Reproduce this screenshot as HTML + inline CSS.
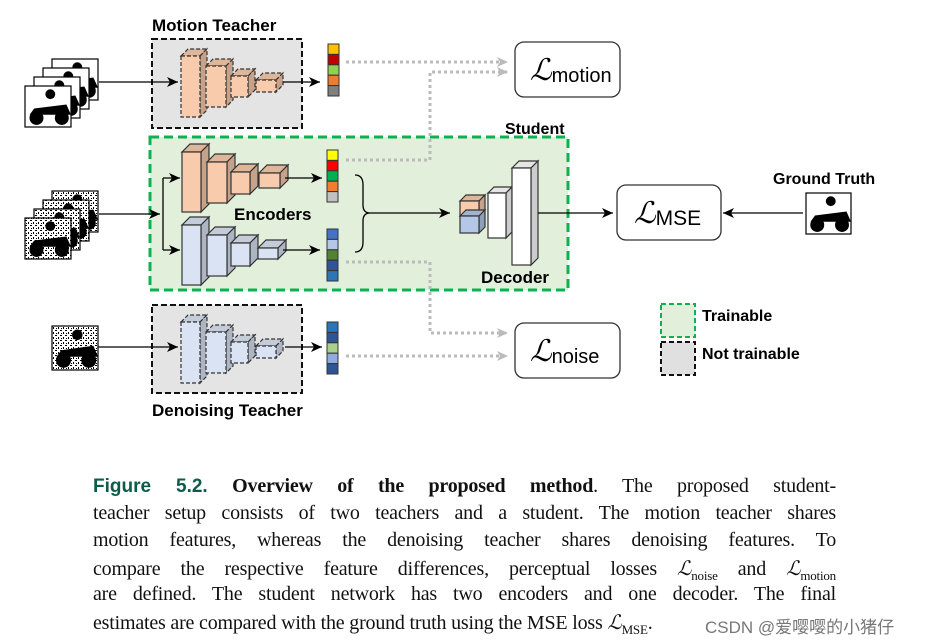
<!DOCTYPE html>
<html><head><meta charset="utf-8"><style>
body{margin:0;background:#fff;width:930px;height:644px;overflow:hidden;position:relative;font-family:"Liberation Sans",sans-serif}
.cap{position:absolute;left:93px;width:743px;font-family:"Liberation Serif",serif;font-size:20px;letter-spacing:-0.2px;color:#111;white-space:nowrap;text-align:justify;text-align-last:justify}
</style></head><body>
<svg id="s" width="930" height="460" style="position:absolute;left:0;top:0" font-family="Liberation Sans, sans-serif">
<defs>
<marker id="a" markerWidth="12" markerHeight="10" refX="11" refY="5" orient="auto" markerUnits="userSpaceOnUse"><path d="M0,0 L11,5 L0,10 L3,5z" fill="#000"/></marker>
<marker id="g" markerWidth="12" markerHeight="10" refX="11" refY="5" orient="auto" markerUnits="userSpaceOnUse"><path d="M0,0 L11,5 L0,10 L3,5z" fill="#bbb"/></marker>
<pattern id="nz" width="5" height="5" patternUnits="userSpaceOnUse"><rect width="5" height="5" fill="#fff"/><rect x="0" y="0" width="2" height="1" fill="#000"/><rect x="3" y="2" width="1" height="2" fill="#000"/><rect x="1" y="3" width="1" height="1" fill="#000"/></pattern>
</defs>
<rect x="152" y="39" width="150" height="89" fill="#e4e4e4" stroke="#111" stroke-width="2" stroke-dasharray="6,3"/>
<text x="152" y="31" font-size="17" font-weight="bold">Motion Teacher</text>
<rect x="150" y="137" width="418" height="153" fill="#e2efda" stroke="#10b050" stroke-width="3" stroke-dasharray="9,5"/>
<text x="505" y="134" font-size="16" font-weight="bold">Student</text>
<rect x="152" y="305" width="150" height="88" fill="#e4e4e4" stroke="#111" stroke-width="2" stroke-dasharray="6,3"/>
<text x="152" y="416" font-size="17" font-weight="bold">Denoising Teacher</text>
<text x="234" y="220" font-size="17" font-weight="bold">Encoders</text>
<text x="481" y="283" font-size="17" font-weight="bold">Decoder</text>
<g id="cubes"></g>
<g id="inp"></g>
<g stroke="#000" stroke-width="1.3" fill="none">
<line x1="99" y1="82" x2="178" y2="82" marker-end="url(#a)"/>
<line x1="283" y1="82" x2="320" y2="82" marker-end="url(#a)"/>
<line x1="99" y1="214" x2="160" y2="214" marker-end="url(#a)"/>
<polyline points="163,178 163,250"/>
<line x1="163" y1="178" x2="180" y2="178" marker-end="url(#a)"/>
<line x1="163" y1="250" x2="180" y2="250" marker-end="url(#a)"/>
<line x1="285" y1="178" x2="322" y2="178" marker-end="url(#a)"/>
<line x1="283" y1="250" x2="320" y2="250" marker-end="url(#a)"/>
<line x1="98" y1="347" x2="178" y2="347" marker-end="url(#a)"/>
<line x1="285" y1="347" x2="322" y2="347" marker-end="url(#a)"/>
<path d="M355,175 Q363,175 363,185 L363,205 Q363,213 370,213 Q363,213 363,221 L363,242 Q363,252 355,252"/>
<line x1="370" y1="213" x2="450" y2="213" marker-end="url(#a)"/>
<line x1="538" y1="213" x2="613" y2="213" marker-end="url(#a)"/>
<line x1="803" y1="213" x2="723" y2="213" marker-end="url(#a)"/>
</g>
<g stroke="#bbb" stroke-width="3" fill="none" stroke-dasharray="3,3">
<line x1="346" y1="62" x2="508" y2="62" marker-end="url(#g)"/>
<polyline points="346,160 430,160 430,72 508,72" marker-end="url(#g)"/>
<polyline points="346,262 430,262 430,333 508,333" marker-end="url(#g)"/>
<line x1="346" y1="356" x2="508" y2="356" marker-end="url(#g)"/>
</g>
<g fill="#fff" stroke="#333" stroke-width="1.3">
<rect x="515" y="42" width="105" height="55" rx="9"/>
<rect x="617" y="185" width="104" height="55" rx="9"/>
<rect x="515" y="323" width="105" height="55" rx="9"/>
</g>
<g font-family="Liberation Serif, serif" font-style="italic" font-size="30">
<text x="530" y="80">ℒ<tspan font-family="Liberation Sans, sans-serif" font-style="normal" font-size="20" dy="2">motion</tspan></text>
<text x="634" y="223">ℒ<tspan font-family="Liberation Sans, sans-serif" font-style="normal" font-size="21" dy="2">MSE</tspan></text>
<text x="530" y="361">ℒ<tspan font-family="Liberation Sans, sans-serif" font-style="normal" font-size="20" dy="2">noise</tspan></text>
</g>
<text x="773" y="184" font-size="16" font-weight="bold">Ground Truth</text>
<rect x="661" y="304" width="34" height="33" fill="#e2efda" stroke="#10b050" stroke-width="2" stroke-dasharray="5,3"/>
<rect x="661" y="342" width="34" height="33" fill="#e0e0e0" stroke="#111" stroke-width="2" stroke-dasharray="5,3"/>
<text x="702" y="321" font-size="16" font-weight="bold">Trainable</text>
<text x="702" y="359" font-size="16" font-weight="bold">Not trainable</text>
</svg>
<div class="cap" style="top:475px"><b style="color:#0b5d4a;font-family:'Liberation Sans',sans-serif;font-size:19px;letter-spacing:0">Figure 5.2.</b> <b>Overview of the proposed method</b>. The proposed student-</div>
<div class="cap" style="top:502px">teacher setup consists of two teachers and a student. The motion teacher shares</div>
<div class="cap" style="top:529px">motion features, whereas the denoising teacher shares denoising features. To</div>
<div class="cap" style="top:556px">compare the respective feature differences, perceptual losses <i>ℒ</i><sub style="font-size:13px">noise</sub> and <i>ℒ</i><sub style="font-size:13px">motion</sub></div>
<div class="cap" style="top:583px">are defined. The student network has two encoders and one decoder. The final</div>
<div class="cap" style="top:610px;text-align-last:left;width:auto">estimates are compared with the ground truth using the MSE loss <i>ℒ</i><sub style="font-size:13px">MSE</sub>.</div>
<div style="position:absolute;left:705px;top:613px;font-size:17px;color:#777;font-family:'Liberation Sans','Noto Sans CJK SC',sans-serif">CSDN @爱嘤嘤的小猪仔</div>
<script>
var NS="http://www.w3.org/2000/svg",C=document.getElementById("cubes"),I=document.getElementById("inp");
function el(p,t,a){var e=document.createElementNS(NS,t);for(var k in a)e.setAttribute(k,a[k]);p.appendChild(e);return e;}
function shade(h,f){var n=parseInt(h.slice(1),16),r=(n>>16)*f,g=((n>>8)&255)*f,b=(n&255)*f;return "rgb("+(r|0)+","+(g|0)+","+(b|0)+")";}
function cube(x1,y1,x2,y2,d,col,dash){var s={stroke:"#333","stroke-width":1.2,"stroke-dasharray":dash?"4,2":"none"};
el(C,"polygon",Object.assign({points:x1+","+y1+" "+(x1+d)+","+(y1-d)+" "+(x2+d)+","+(y1-d)+" "+x2+","+y1,fill:shade(col,0.9)},s));
el(C,"polygon",Object.assign({points:x2+","+y1+" "+(x2+d)+","+(y1-d)+" "+(x2+d)+","+(y2-d)+" "+x2+","+y2,fill:shade(col,0.8)},s));
el(C,"rect",Object.assign({x:x1,y:y1,width:x2-x1,height:y2-y1,fill:col},s));}
function enc(dy,col,dash){[[181,56,200,117],[206,66,226,107],[231,76,248,97],[256,80,276,92]].forEach(function(q){cube(q[0],q[1]+dy,q[2],q[3]+dy,7,col,dash);});}
enc(0,"#f7cbac",1);
[[182,152,201,212],[207,162,227,203],[231,172,250,194],[259,173,280,188]].forEach(function(q){cube(q[0],q[1],q[2],q[3],8,"#f7cbac",0);});
[[182,225,201,285],[207,235,227,276],[231,243,250,266],[258,248,278,259]].forEach(function(q){cube(q[0],q[1],q[2],q[3],8,"#dae3f3",0);});
enc(266,"#dae3f3",1);
cube(460,201,479,216,6,"#f7cbac",0);cube(460,216,479,233,6,"#b4c7e7",0);
cube(488,193,506,238,6,"#ffffff",0);cube(512,168,531,265,7,"#ffffff",0);
function stack(x,y,cols){cols.forEach(function(c,i){el(C,"rect",{x:x,y:y+i*10.4,width:11,height:10.4,fill:c,stroke:"#333","stroke-width":1});});}
stack(328,44,["#ffc000","#c00000","#92d050","#ed7d31","#808080"]);
stack(327,150,["#ffff00","#ff0000","#00b050","#ed7d31","#c0c0c0"]);
stack(327,229,["#4472c4","#b4c7e7","#548235","#2f5597","#2e75b6"]);
stack(327,322,["#2e75b6","#2f5597","#a9d18e","#8faadc","#2f5597"]);
function pic(x,y,w,h,noise){el(I,"rect",{x:x,y:y,width:w,height:h,fill:noise?"url(#nz)":"#fff",stroke:"#000","stroke-width":1.2});
el(I,"circle",{cx:x+w*0.25,cy:y+h*0.78,r:h*0.17,fill:"#000"});el(I,"circle",{cx:x+w*0.8,cy:y+h*0.78,r:h*0.17,fill:"#000"});
el(I,"circle",{cx:x+w*0.55,cy:y+h*0.2,r:h*0.12,fill:"#000"});el(I,"polygon",{points:(x+w*0.2)+","+(y+h*0.55)+" "+(x+w*0.9)+","+(y+h*0.45)+" "+(x+w)+","+(y+h*0.7)+" "+(x+w*0.1)+","+(y+h*0.7),fill:"#000"});}
for(var i=3;i>=0;i--){pic(25+i*9,86-i*9,46,41,0);}
for(var i=3;i>=0;i--){pic(25+i*9,218-i*9,46,41,1);}
pic(52,326,46,44,1);pic(806,193,45,41,0);
</script>
</body></html>
